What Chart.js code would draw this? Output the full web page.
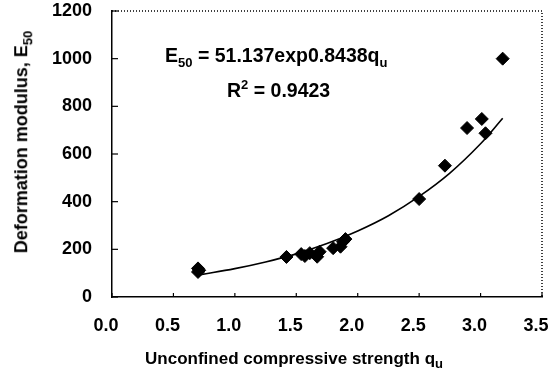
<!DOCTYPE html>
<html>
<head>
<meta charset="utf-8">
<script src="https://cdn.jsdelivr.net/npm/chart.js@4"></script>
<style>
  body { margin: 0; background: #fff; }
  #wrap { position: relative; width: 557px; height: 382px; }
  .txt { position: absolute; font: bold 19.5px "Liberation Sans", Arial, sans-serif; color: #000; white-space: nowrap; line-height: 1; }
  .txt sub, .txt sup { font-size: 13px; }
  #ytitle { left: 23px; top: 142px; transform: translate(-50%, -50%) rotate(-90deg); font-size: 18px; }
  #xtitle { left: 294px; top: 360px; transform: translate(-50%, -50%); font-size: 17px; }
</style>
</head>
<body>
<div id="wrap">
  <canvas id="chart" width="557" height="382"></canvas>
  <div class="txt" style="left:165px;top:46px">E<sub>50</sub> = 51.137exp0.8438q<sub>u</sub></div>
  <div class="txt" style="left:227px;top:78px">R<sup>2</sup> = 0.9423</div>
  <div class="txt" id="ytitle">Deformation modulus, E<sub>50</sub></div>
  <div class="txt" id="xtitle">Unconfined compressive strength q<sub>u</sub></div>
</div>
<script>
// measured points (qu, E50)
const strength = [0.70, 0.70, 0.71, 1.42, 1.54, 1.57, 1.61, 1.67, 1.69, 1.80, 1.86, 1.88, 1.90, 2.50, 2.71, 2.89, 3.01, 3.04, 3.18];
const modulus = [120, 105, 112, 168, 180, 172, 184, 169, 190, 205, 211, 232, 243, 411, 551, 709, 747, 687, 1000];

// trend curve
const trendQu = [0.72, 1.0, 1.25, 1.5, 1.75, 2.0, 2.25, 2.5, 2.75, 3.0, 3.18];
const trendE = [94, 119, 147, 181, 224, 277, 341, 422, 520, 643, 750];

const xTicks = [0, 0.5, 1.0, 1.5, 2.0, 2.5, 3.0, 3.5];
const yTicks = [0, 200, 400, 600, 800, 1000, 1200];

const tickFont = { family: "Liberation Sans", size: 18, weight: "bold" };

// inward tick marks + dotted top/right frame
const frame = {
  id: "frame",
  afterDraw(chart) {
    const { ctx, chartArea: a, scales } = chart;
    ctx.save();
    ctx.strokeStyle = "#000";
    ctx.lineWidth = 1.2;
    yTicks.forEach(v => {
      const y = scales.y.getPixelForValue(v);
      ctx.beginPath();
      ctx.moveTo(a.left, y);
      ctx.lineTo(a.left + 6, y);
      ctx.stroke();
    });
    xTicks.forEach(v => {
      const x = scales.x.getPixelForValue(v);
      ctx.beginPath();
      ctx.moveTo(x, a.bottom);
      ctx.lineTo(x, a.bottom - 4);
      ctx.stroke();
    });
    ctx.setLineDash([1, 2]);
    ctx.lineWidth = 1.5;
    ctx.beginPath();
    ctx.moveTo(a.left, a.top);
    ctx.lineTo(a.right, a.top);
    ctx.lineTo(a.right, a.bottom);
    ctx.stroke();
    ctx.restore();
  }
};

new Chart(document.getElementById("chart"), {
  type: "scatter",
  data: {
    datasets: [
      {
        label: "E50",
        data: strength.map((q, i) => ({ x: q, y: modulus[i] })),
        pointStyle: "rectRot",
        pointRadius: 6.5,
        backgroundColor: "#000",
        borderColor: "#000"
      },
      {
        label: "trend",
        data: trendQu.map((q, i) => ({ x: q, y: trendE[i] })),
        showLine: true,
        pointRadius: 0,
        borderColor: "#000",
        borderWidth: 1.6,
        tension: 0.4,
        fill: false
      }
    ]
  },
  options: {
    responsive: false,
    animation: false,
    layout: { padding: 0 },
    plugins: { legend: { display: false }, tooltip: { enabled: false } },
    scales: {
      x: {
        type: "linear",
        min: 0,
        max: 3.5,
        afterBuildTicks: s => { s.ticks = xTicks.map(v => ({ value: v })); },
        afterFit: s => { s.height = 85; s.paddingLeft = 0; s.paddingRight = 15; },
        grid: { display: false, drawTicks: false },
        border: { display: true, color: "#000", width: 1.5 },
        ticks: {
          font: tickFont,
          color: "#000",
          padding: 18,
          labelOffset: -6,
          callback: v => v.toFixed(1)
        }
      },
      y: {
        min: 0,
        max: 1200,
        afterBuildTicks: s => { s.ticks = yTicks.map(v => ({ value: v })); },
        afterFit: s => { s.width = 112; s.paddingTop = 11; s.paddingBottom = 0; },
        grid: { display: false, drawTicks: false },
        border: { display: true, color: "#000", width: 1.5 },
        ticks: { font: tickFont, color: "#000", padding: 20, callback: v => String(v) }
      }
    }
  },
  plugins: [frame]
});
</script>
</body>
</html>
